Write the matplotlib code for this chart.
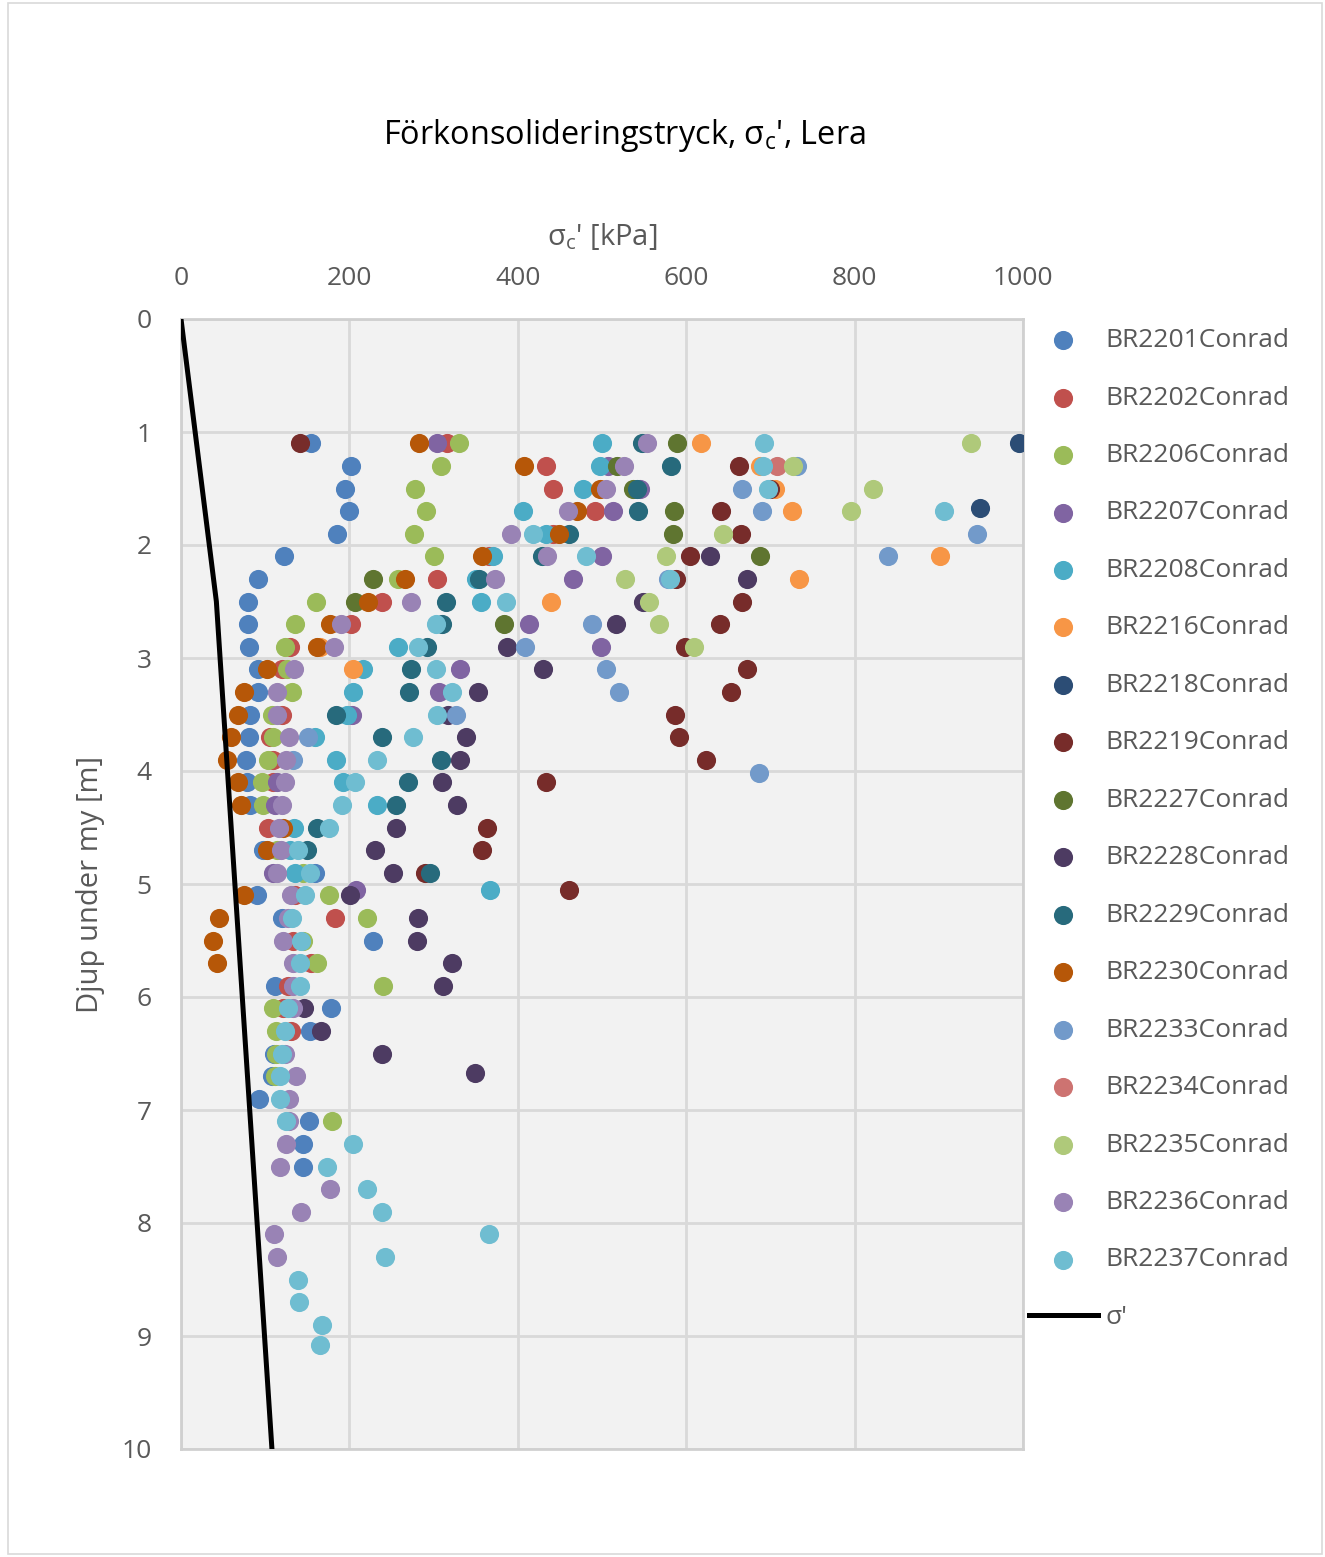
import matplotlib.pyplot as plt
from matplotlib.patches import Rectangle

# depth [m] / preconsolidation pressure [kPa] per borehole
br2201_depth = [1.1, 1.3, 1.5, 1.7, 1.9, 2.1, 2.3, 2.5, 2.7, 2.9, 3.1, 3.3, 3.5, 3.7, 3.9, 4.1, 4.3, 4.7, 4.9, 5.1, 5.3, 5.5, 5.9, 6.1, 6.3, 6.5, 6.7, 6.9, 7.1, 7.3, 7.5]
br2201_kpa = [154, 202, 195, 200, 185, 122, 91, 80, 80, 81, 91, 91, 82, 81, 77, 78, 82, 97, 159, 90, 120, 228, 112, 178, 153, 110, 108, 93, 152, 145, 145]
br2202_depth = [1.1, 1.3, 1.5, 1.7, 1.9, 2.1, 2.3, 2.5, 2.7, 2.9, 3.1, 3.5, 3.7, 3.9, 4.1, 4.5, 5.1, 5.3, 5.5, 5.7, 5.9, 6.1, 6.3]
br2202_kpa = [316, 434, 442, 492, 442, 366, 304, 239, 202, 129, 120, 120, 106, 109, 109, 103, 135, 183, 133, 154, 127, 121, 131]
br2206_depth = [1.1, 1.3, 1.5, 1.7, 1.9, 2.1, 2.3, 2.5, 2.7, 2.9, 3.1, 3.3, 3.5, 3.7, 3.9, 4.1, 4.3, 4.7, 4.9, 5.1, 5.3, 5.5, 5.7, 5.9, 6.1, 6.3, 6.5, 6.7, 7.1]
br2206_kpa = [330, 309, 278, 291, 277, 300, 258, 160, 135, 124, 126, 132, 108, 109, 103, 96, 97, 114, 145, 176, 221, 145, 162, 240, 109, 113, 113, 112, 179]
br2207_depth = [1.1, 1.3, 1.5, 1.7, 2.1, 2.3, 2.7, 2.9, 3.1, 3.3, 3.5, 4.1, 4.3, 4.9, 5.05]
br2207_kpa = [304, 507, 545, 513, 500, 466, 413, 499, 331, 306, 203, 114, 112, 109, 208]
br2208_depth = [1.1, 1.3, 1.5, 1.7, 1.9, 2.1, 2.3, 2.5, 2.9, 3.1, 3.3, 3.5, 3.7, 3.9, 4.1, 4.3, 4.5, 4.7, 4.9, 5.05]
br2208_kpa = [500, 498, 477, 406, 433, 371, 350, 356, 258, 216, 204, 197, 159, 184, 192, 233, 134, 129, 135, 367]
br2216_depth = [1.1, 1.3, 1.5, 1.7, 2.1, 2.3, 2.5, 2.9, 3.1]
br2216_kpa = [617, 688, 705, 726, 901, 734, 439, 165, 204]
br2218_depth = [1.1, 1.67]
br2218_kpa = [995, 949]
br2219_depth = [1.1, 1.3, 1.5, 1.7, 1.9, 2.1, 2.3, 2.5, 2.7, 2.9, 3.1, 3.3, 3.5, 3.7, 3.9, 4.1, 4.5, 4.7, 4.9, 5.05]
br2219_kpa = [141, 663, 700, 641, 665, 605, 588, 666, 640, 599, 672, 653, 587, 591, 624, 433, 363, 357, 290, 461]
br2227_depth = [1.1, 1.3, 1.5, 1.7, 1.9, 2.1, 2.3, 2.5, 2.7]
br2227_kpa = [589, 518, 537, 586, 584, 688, 228, 207, 384]
br2228_depth = [2.1, 2.3, 2.5, 2.7, 2.9, 3.1, 3.3, 3.5, 3.7, 3.9, 4.1, 4.3, 4.5, 4.7, 4.9, 5.1, 5.3, 5.5, 5.7, 5.9, 6.1, 6.3, 6.5, 6.67]
br2228_kpa = [628, 672, 549, 517, 387, 430, 353, 317, 338, 331, 310, 328, 255, 230, 252, 201, 281, 280, 322, 311, 146, 166, 239, 349]
br2229_depth = [1.1, 1.3, 1.5, 1.7, 1.9, 2.1, 2.3, 2.5, 2.7, 2.9, 3.1, 3.3, 3.5, 3.7, 3.9, 4.1, 4.3, 4.5, 4.7, 4.9]
br2229_kpa = [548, 582, 541, 543, 461, 429, 354, 315, 310, 292, 273, 271, 184, 239, 309, 270, 255, 162, 150, 296]
br2230_depth = [1.1, 1.3, 1.5, 1.7, 1.9, 2.1, 2.3, 2.5, 2.7, 2.9, 3.1, 3.3, 3.5, 3.7, 3.9, 4.1, 4.3, 4.5, 4.7, 5.1, 5.3, 5.5, 5.7]
br2230_kpa = [283, 407, 498, 470, 449, 357, 266, 222, 177, 162, 102, 75, 68, 59, 55, 68, 71, 121, 102, 75, 45, 38, 43]
br2233_depth = [1.3, 1.5, 1.7, 1.9, 2.1, 2.3, 2.7, 2.9, 3.1, 3.3, 3.5, 3.7, 3.9, 4.02]
br2233_kpa = [732, 666, 690, 945, 840, 578, 488, 409, 505, 520, 327, 151, 133, 686]
br2234_depth = [1.3]
br2234_kpa = [708]
br2235_depth = [1.1, 1.3, 1.5, 1.7, 1.9, 2.1, 2.3, 2.5, 2.7, 2.9]
br2235_kpa = [938, 727, 822, 796, 644, 576, 527, 556, 568, 609]
br2236_depth = [1.1, 1.3, 1.5, 1.7, 1.9, 2.1, 2.3, 2.5, 2.7, 2.9, 3.1, 3.3, 3.5, 3.7, 3.9, 4.1, 4.3, 4.5, 4.7, 4.9, 5.1, 5.3, 5.5, 5.7, 5.9, 6.1, 6.5, 6.7, 6.9, 7.1, 7.3, 7.5, 7.7, 7.9, 8.1, 8.3]
br2236_kpa = [553, 526, 505, 460, 392, 435, 373, 273, 190, 182, 134, 114, 114, 128, 125, 124, 120, 116, 119, 114, 131, 127, 121, 133, 133, 133, 124, 137, 128, 128, 125, 118, 177, 143, 110, 114]
br2237_depth = [1.1, 1.3, 1.5, 1.7, 1.9, 2.1, 2.3, 2.5, 2.7, 2.9, 3.1, 3.3, 3.5, 3.7, 3.9, 4.1, 4.3, 4.5, 4.7, 4.9, 5.1, 5.3, 5.5, 5.7, 5.9, 6.1, 6.3, 6.5, 6.7, 6.9, 7.1, 7.3, 7.5, 7.7, 7.9, 8.1, 8.3, 8.5, 8.7, 8.9, 9.08]
br2237_kpa = [692, 691, 697, 906, 418, 481, 581, 386, 303, 281, 303, 322, 304, 276, 233, 207, 191, 176, 139, 153, 147, 132, 143, 141, 141, 127, 124, 120, 118, 118, 125, 204, 173, 221, 239, 366, 242, 139, 140, 167, 165]

# effective stress line
sigma_depth = [0, 2.5, 10]
sigma_kpa = [0, 42, 108]

SERIES = [
    ("BR2201Conrad", br2201_kpa, br2201_depth, "#4F81BD"),
    ("BR2202Conrad", br2202_kpa, br2202_depth, "#C0504D"),
    ("BR2206Conrad", br2206_kpa, br2206_depth, "#9BBB59"),
    ("BR2207Conrad", br2207_kpa, br2207_depth, "#8064A2"),
    ("BR2208Conrad", br2208_kpa, br2208_depth, "#4BACC6"),
    ("BR2216Conrad", br2216_kpa, br2216_depth, "#F79646"),
    ("BR2218Conrad", br2218_kpa, br2218_depth, "#2C4D75"),
    ("BR2219Conrad", br2219_kpa, br2219_depth, "#772C2A"),
    ("BR2227Conrad", br2227_kpa, br2227_depth, "#5F7530"),
    ("BR2228Conrad", br2228_kpa, br2228_depth, "#4D3B62"),
    ("BR2229Conrad", br2229_kpa, br2229_depth, "#276A7C"),
    ("BR2230Conrad", br2230_kpa, br2230_depth, "#B65708"),
    ("BR2233Conrad", br2233_kpa, br2233_depth, "#729ACA"),
    ("BR2234Conrad", br2234_kpa, br2234_depth, "#CD7371"),
    ("BR2235Conrad", br2235_kpa, br2235_depth, "#AFC97A"),
    ("BR2236Conrad", br2236_kpa, br2236_depth, "#9983B5"),
    ("BR2237Conrad", br2237_kpa, br2237_depth, "#6FBDD1"),
]

plt.rcParams['font.family'] = ['Open Sans', 'DejaVu Sans']
plt.rcParams['mathtext.fontset'] = 'custom'
plt.rcParams['mathtext.rm'] = 'Open Sans'

W, H = 1325, 1557
fig = plt.figure(figsize=(W / 100, H / 100), dpi=100)
fig.patches.append(Rectangle((8 / W, 3 / H), 1314 / W, 1551 / H, transform=fig.transFigure,
                             fill=False, edgecolor='#D9D9D9', lw=1.2))

ax = fig.add_axes([181 / W, 1 - 1449 / H, 842 / W, 1130 / H])
ax.set_facecolor('#F2F2F2')

for name, xs, ys, col in SERIES:
    ax.scatter(xs, ys, s=190, color=col, linewidths=0, label=name, zorder=3)
ax.plot(sigma_kpa, sigma_depth, color='black', lw=3.6, label="σ'", zorder=4)

ax.set_xlim(0, 1000)
ax.set_ylim(10, 0)
ax.xaxis.tick_top()
ax.xaxis.set_label_position('top')
ax.set_xticks(range(0, 1001, 200))
ax.set_yticks(range(0, 11))
ax.tick_params(length=0, labelsize=19, colors='#595959')
ax.tick_params(axis='x', pad=20)
ax.tick_params(axis='y', pad=21)
ax.grid(color='#D9D9D9', lw=2)
ax.set_axisbelow(True)
for sp in ax.spines.values():
    sp.set_color('#D0D0D0')
    sp.set_linewidth(2)

ax.set_xlabel(r"σ$_{\mathregular{c}}$' [kPa]", fontsize=21, color='#595959', labelpad=15)
ax.set_ylabel("Djup under my [m]", fontsize=21, color='#595959', labelpad=12)
fig.text(624 / W, 1 - 136 / H, r"Förkonsolideringstryck, σ$_{\mathregular{c}}$', Lera",
         fontsize=23.4, color='black', ha='center', va='center')

leg = ax.legend(loc='upper left', bbox_to_anchor=(1008 / W, 1 - 307 / H), bbox_transform=fig.transFigure,
                frameon=False, fontsize=19, labelspacing=1.23, handlelength=2.6, handletextpad=0.3,
                borderpad=0.3, scatterpoints=1)
for t in leg.get_texts():
    t.set_color('#595959')

fig.savefig('out.png', dpi=100)
